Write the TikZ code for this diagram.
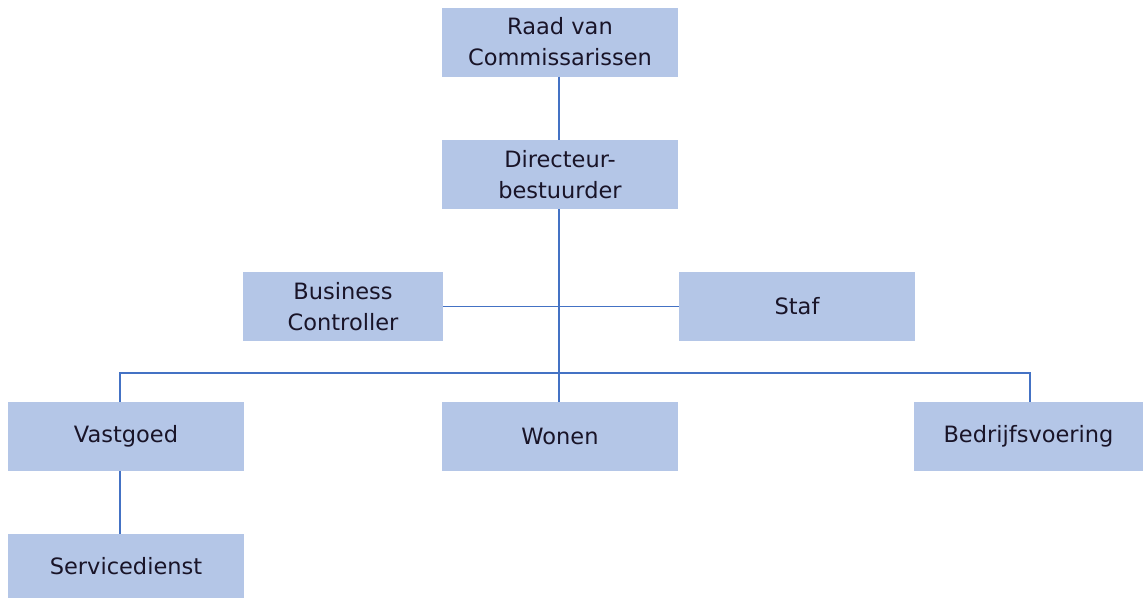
\documentclass[tikz,border=0pt]{standalone}
\usepackage{fontspec}
\setmainfont{DejaVu Sans}
\usepackage{tikz}
\usetikzlibrary{positioning,calc}
\usepackage{xcolor}
\definecolor{unitfill}{RGB}{180,198,231}
\definecolor{unitline}{RGB}{68,114,196}
\definecolor{unittext}{RGB}{25,20,40}

\begin{document}
\begin{tikzpicture}[
    x=1pt, y=-1pt,
    unit/.style={rectangle, fill=unitfill, minimum width=236pt, minimum height=69pt, inner sep=0pt, text centered, align=center, text=unittext, font=\fontsize{22.5}{31}\selectfont},
    link/.style={draw=unitline, line width=1.3pt}
]
\useasboundingbox (0,0) rectangle (1143,598);

\node[unit] (raad) at (560,42) {Raad van\\Commissarissen};
\node[unit] (dir) at (560,174.5) {Directeur-\\bestuurder};
\node[unit, minimum width=200pt] (bc) at (343,306.5) {Business\\Controller};
\node[unit] (staf) at (797,306.5) {Staf};
\node[unit] (vastgoed) at (126,436.5) {Vastgoed};
\node[unit] (wonen) at (560,436.5) {Wonen};
\node[unit, minimum width=229pt] (bedrijf) at (1028.5,436.5) {Bedrijfsvoering};
\node[unit, minimum height=64pt] (service) at (126,566) {Servicedienst};

\coordinate (bus) at (559,373);

\draw[link] (raad.south -| 559,0) -- (dir.north -| 559,0);
\draw[link] (dir.south -| 559,0) -- (wonen.north -| 559,0);
\draw[link] (bc.east) -- (staf.west);
\draw[link] ($(vastgoed.north)+(-6,0)$) |- (bus) -| ($(bedrijf.north)+(1.5,0)$);
\draw[link] ($(vastgoed.south)+(-6,0)$) -- ($(service.north)+(-6,0)$);

\end{tikzpicture}
\end{document}
